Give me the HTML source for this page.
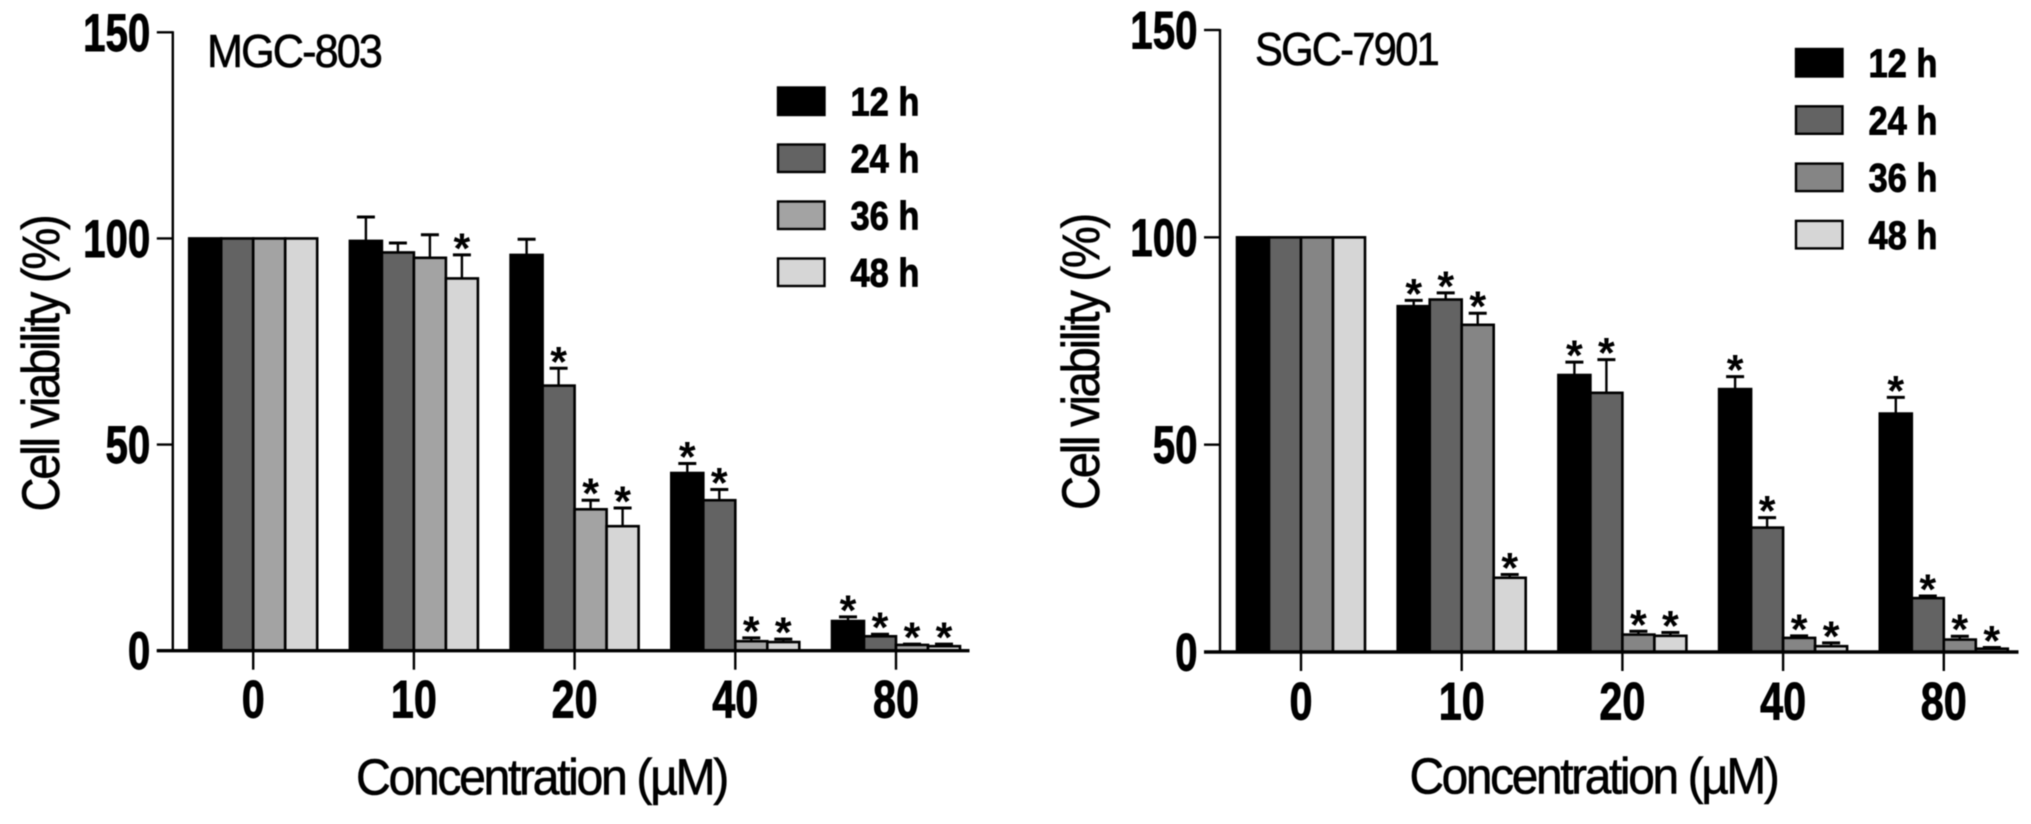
<!DOCTYPE html>
<html lang="en">
<head>
<meta charset="utf-8">
<title>Cell viability charts</title>
<style>
html,body{margin:0;padding:0;background:#fff;width:2031px;height:824px;overflow:hidden}
svg{display:block;font-family:"Liberation Sans",sans-serif;filter:blur(.45px)}
.bold{font-weight:700;stroke:#000;stroke-width:.9px}
.reg{stroke:#000;stroke-width:.6px}
</style>
</head>
<body>
<svg id="figure" xmlns="http://www.w3.org/2000/svg" width="2031" height="824" viewBox="0 0 2031 824">
<rect x="0" y="0" width="2031" height="824" fill="#fff"/>
<g id="panel-left"></g>
<g id="panel-right"></g>
</svg>
<script>
// Shared labels
const categories = ['0', '10', '20', '40', '80'];
const seriesNames = ['12 h', '24 h', '36 h', '48 h'];
const yTickValues = [0, 50, 100, 150];

// MGC-803 means
const mgc12h = [100, 99.4, 96, 43.1, 7.2];
const mgc24h = [100, 96.6, 64.3, 36.5, 3.5];
const mgc36h = [100, 95.3, 34.3, 2.3, 1.4];
const mgc48h = [100, 90.3, 30.2, 2.1, 1.1];
// MGC-803 error bars
const mgcErr12h = [0, 5.8, 3.8, 2.3, 1.0];
const mgcErr24h = [0, 2.3, 4.2, 2.6, 0.5];
const mgcErr36h = [0, 5.6, 2.2, 0.8, 0.2];
const mgcErr48h = [0, 5.7, 4.4, 0.7, 0.5];
// MGC-803 significance
const mgcSig12h = [0, 0, 0, 1, 1];
const mgcSig24h = [0, 0, 1, 1, 1];
const mgcSig36h = [0, 0, 1, 1, 1];
const mgcSig48h = [0, 1, 1, 1, 1];

// SGC-7901 means
const sgc12h = [100, 83.4, 66.8, 63.4, 57.5];
const sgc24h = [100, 85, 62.5, 30, 13];
const sgc36h = [100, 78.9, 4.2, 3.4, 3];
const sgc48h = [100, 17.9, 3.9, 1.4, 0.8];
// SGC-7901 error bars
const sgcErr12h = [0, 1.4, 3.1, 3, 3.9];
const sgcErr24h = [0, 1.6, 8, 2.4, 0.5];
const sgcErr36h = [0, 2.8, 0.8, 0.5, 0.8];
const sgcErr48h = [0, 0.8, 0.8, 0.8, 0.3];
// SGC-7901 significance
const sgcSig12h = [0, 1, 1, 1, 1];
const sgcSig24h = [0, 1, 1, 1, 1];
const sgcSig36h = [0, 1, 1, 1, 1];
const sgcSig48h = [0, 1, 1, 1, 1];

const NS = 'http://www.w3.org/2000/svg';

function make(parent, tag, attrs, text) {
  const node = document.createElementNS(NS, tag);
  for (const key in attrs) node.setAttribute(key, attrs[key]);
  if (text !== undefined) node.textContent = text;
  parent.appendChild(node);
  return node;
}

function drawPanel(cfg) {
  const root = cfg.root;
  const yScale = function (v) { return cfg.y0 - v * (cfg.y0 - cfg.y150) / 150; };
  const xScale = function (c, s) { return cfg.x0 + c * cfg.groupStep + (s - 1.5) * cfg.barStep; };

  // Bars
  cfg.means.forEach(function (values, s) {
    values.forEach(function (v, c) {
      const cx = xScale(c, s);
      const top = yScale(v);
      const bar = make(root, 'rect', {
        x: cx - 16, y: top, width: 32, height: cfg.y0 - top,
        fill: cfg.colors[s], stroke: '#000', 'stroke-width': 2.6
      });
      
      
    });
  });

  // Error bars and significance stars
  cfg.errors.forEach(function (values, s) {
    values.forEach(function (e, c) {
      const cx = xScale(c, s);
      const top = yScale(cfg.means[s][c]);
      const hi = yScale(cfg.means[s][c] + e);
      if (e > 0) {
        const stem = make(root, 'line', { x1: cx, x2: cx, y1: top, y2: hi, stroke: '#000', 'stroke-width': 2.4 });
        
        
        const cap = make(root, 'line', { x1: cx - 9, x2: cx + 9, y1: hi, y2: hi, stroke: '#000', 'stroke-width': 3 });
        
        
      }
      if (cfg.sig[s][c]) {
        const star = make(root, 'text', {
          x: cx, y: hi + 8, 'text-anchor': 'middle',
          'font-weight': 700, 'font-size': 43, fill: '#000'
        }, '*');
        
        
      }
    });
  });

  // Y axis
  const yAxis = make(root, 'line', { x1: cfg.axisX, x2: cfg.axisX, y1: yScale(150) - 1, y2: cfg.y0, stroke: '#000', 'stroke-width': 2.4 });
  
  
  yTickValues.forEach(function (t) {
    const y = yScale(t);
    const tick = make(root, 'line', { x1: cfg.axisX - 16, x2: cfg.axisX, y1: y, y2: y, stroke: '#000', 'stroke-width': 2.4 });
    
    
    const label = String(t);
    const lab = make(root, 'text', {
      x: cfg.axisX - 22.5, y: y + cfg.yLabelDy, 'text-anchor': 'end', class: 'bold',
      'font-size': 53, fill: '#000', textLength: label.length * 22.4, lengthAdjust: 'spacingAndGlyphs'
    }, label);
    
    
  });

  // X axis
  const xAxis = make(root, 'line', { x1: cfg.axisX - 16, x2: cfg.xEnd, y1: cfg.y0, y2: cfg.y0, stroke: '#000', 'stroke-width': 3.4 });
  
  
  categories.forEach(function (cat, c) {
    const x = cfg.x0 + c * cfg.groupStep;
    const tick = make(root, 'line', { x1: x, x2: x, y1: cfg.y0, y2: cfg.y0 + 19, stroke: '#000', 'stroke-width': 2.4 });
    
    
    const lab = make(root, 'text', {
      x: x, y: cfg.xLabelY, 'text-anchor': 'middle', class: 'bold',
      'font-size': 53, fill: '#000', textLength: cat.length * 23, lengthAdjust: 'spacingAndGlyphs'
    }, cat);
    
    
  });

  // Legend
  seriesNames.forEach(function (name, s) {
    const y = cfg.legendY + s * cfg.legendStep;
    const swatch = make(root, 'rect', { x: cfg.legendX + 1, y: y + 1, width: 46.5, height: 27.5, fill: cfg.colors[s], stroke: '#000', 'stroke-width': 2.4 });
    
    
    const text = make(root, 'text', {
      x: cfg.legendX + 73.5, y: y + 29, class: 'bold', 'font-size': 40, fill: '#000',
      textLength: 69, lengthAdjust: 'spacingAndGlyphs'
    }, name);
    
    
  });

  // Titles
  const panelTitle = make(root, 'text', {
    x: cfg.titleX, y: cfg.titleY, 'font-size': 46, fill: '#000', class: 'reg', 'letter-spacing': -2,
    textLength: cfg.titleW, lengthAdjust: 'spacingAndGlyphs'
  }, cfg.title);
  
  

  const xTitle = make(root, 'text', {
    x: cfg.xTitleX, y: cfg.xTitleY, 'font-size': 51, fill: '#000', class: 'reg', 'letter-spacing': -2.5,
    textLength: cfg.xTitleW, lengthAdjust: 'spacingAndGlyphs'
  }, 'Concentration (\u00b5M)');
  
  

  const yTitle = make(root, 'text', {
    transform: 'translate(' + cfg.yTitleX + ',' + cfg.yTitleBottom + ') rotate(-90)',
    x: 0, y: 0, 'font-size': 53, fill: '#000', class: 'reg', 'letter-spacing': -2.5,
    textLength: 295, lengthAdjust: 'spacingAndGlyphs'
  }, 'Cell viability (%)');
  
  
}

drawPanel({
  root: document.getElementById('panel-left'),
  means: [mgc12h, mgc24h, mgc36h, mgc48h],
  errors: [mgcErr12h, mgcErr24h, mgcErr36h, mgcErr48h],
  sig: [mgcSig12h, mgcSig24h, mgcSig36h, mgcSig48h],
  colors: ['#000000', '#636363', '#a3a3a3', '#d6d6d6'],
  y0: 650.7, y150: 32.3, axisX: 172.8, xEnd: 969.5,
  x0: 253.2, groupStep: 160.7, barStep: 32,
  yLabelDy: 18.5, xLabelY: 717.5,
  legendX: 777, legendY: 86.5, legendStep: 57,
  title: 'MGC-803', titleX: 207, titleY: 67, titleW: 174,
  xTitleX: 356, xTitleY: 794.5, xTitleW: 371,
  yTitleX: 59, yTitleBottom: 511.5
});

drawPanel({
  root: document.getElementById('panel-right'),
  means: [sgc12h, sgc24h, sgc36h, sgc48h],
  errors: [sgcErr12h, sgcErr24h, sgcErr36h, sgcErr48h],
  sig: [sgcSig12h, sgcSig24h, sgcSig36h, sgcSig48h],
  colors: ['#000000', '#636363', '#858585', '#d6d6d6'],
  y0: 652, y150: 30, axisX: 1220, xEnd: 2018.5,
  x0: 1301, groupStep: 160.7, barStep: 32,
  yLabelDy: 18.5, xLabelY: 719.5,
  legendX: 1795, legendY: 48, legendStep: 57.3,
  title: 'SGC-7901', titleX: 1255, titleY: 65, titleW: 183,
  xTitleX: 1409.5, xTitleY: 793.5, xTitleW: 368,
  yTitleX: 1099, yTitleBottom: 510
});
</script>
</body>
</html>
